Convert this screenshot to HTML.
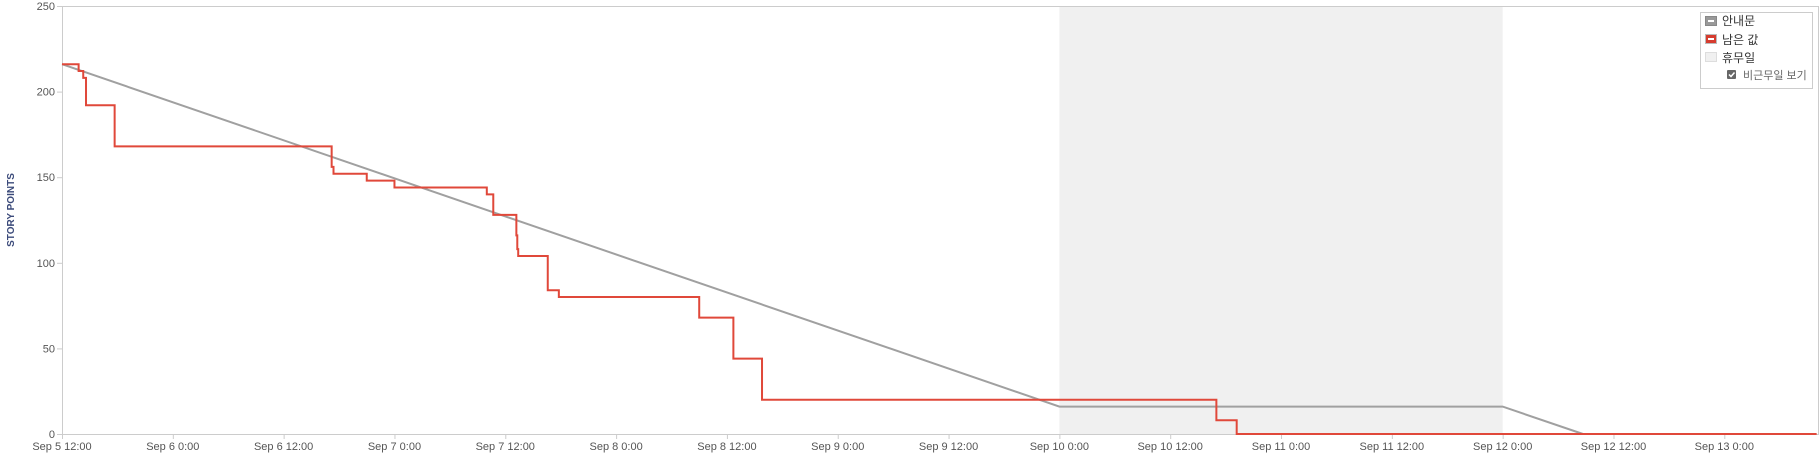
<!DOCTYPE html>
<html><head><meta charset="utf-8">
<style>
html,body{margin:0;padding:0;background:#fff;width:1820px;height:454px;overflow:hidden;font-family:"Liberation Sans","Noto Sans CJK KR",sans-serif}
svg{display:block}
</style></head>
<body>
<svg id="chart" width="1820" height="454" xmlns="http://www.w3.org/2000/svg">
<g id="bg"></g><g id="axes"></g><g id="series"></g>
<text transform="translate(14,210) rotate(-90)" text-anchor="middle" font-size="10" font-weight="bold" fill="#3b4a7a">STORY POINTS</text>
<g>
<rect x="1700.5" y="12.5" width="112" height="76" fill="#fff" stroke="#ccc"/>
<g><rect x="1705.5" y="16.5" width="11" height="9" fill="#999" stroke="#888"/><rect x="1708" y="20" width="6" height="2" fill="#fff"/><text x="1722" y="25" font-size="12" fill="#333">안내문</text></g>
<g><rect x="1705.5" y="34.5" width="11" height="9" fill="#d63c2f" stroke="#bbb"/><rect x="1708" y="38" width="6" height="2" fill="#fff"/><text x="1722" y="44" font-size="12" fill="#333">남은 값</text></g>
<g><rect x="1705.5" y="52.5" width="11" height="9" fill="#f0f0f0" stroke="#ddd"/><text x="1722" y="62" font-size="12" fill="#333">휴무일</text></g>
<g><rect x="1727" y="70" width="9" height="9" rx="1" fill="#666"/><path d="M1729 74.5l2 2 3.5-4" stroke="#fff" stroke-width="1.5" fill="none"/><text x="1743" y="79" font-size="11" fill="#666">비근무일 보기</text></g>
</g>
</svg>
<script>
const xTickLabels=["Sep 5 12:00","Sep 6 0:00","Sep 6 12:00","Sep 7 0:00","Sep 7 12:00","Sep 8 0:00","Sep 8 12:00","Sep 9 0:00","Sep 9 12:00","Sep 10 0:00","Sep 10 12:00","Sep 11 0:00","Sep 11 12:00","Sep 12 0:00","Sep 12 12:00","Sep 13 0:00"];
const yTicks=[0,50,100,150,200,250];
const weekendHours=[108,156];
const guideHours=[0,108,156,164.7];
const guideValues=[216,16,16,0];
const remainHours=[0,1.8,2.3,2.6,5.7,29.2,29.4,33,36,46,46.7,49.2,49.3,49.4,52.6,53.8,69,72.7,75.8,125,127.2,190];
const remainValues=[216,212,208,192,168,156,152,148,144,140,128,116,108,104,84,80,68,44,20,8,0,0];
const L=62,R=1818,T=6,B=434;
const x=h=>L+h*9.235;
const y=v=>B-v*(B-T)/250;
const NS="http://www.w3.org/2000/svg";
function mk(tag,attrs,parent,txt){const e=document.createElementNS(NS,tag);for(const k in attrs)e.setAttribute(k,attrs[k]);if(txt!==undefined)e.textContent=txt;parent.appendChild(e);return e;}
const bg=document.getElementById('bg'),ax=document.getElementById('axes'),se=document.getElementById('series');
const wk=mk('rect',{x:x(weekendHours[0]),y:T,width:x(weekendHours[1])-x(weekendHours[0]),height:B-T,fill:'#f0f0f0'},bg);


const frame=mk('path',{d:`M${L+0.5} ${B}V${T+0.5}H${R+0.5}V${B}`,fill:'none',stroke:'#ccc'},ax);


mk('line',{x1:L,x2:R+1,y1:B+0.5,y2:B+0.5,stroke:'#ccc'},ax);
yTicks.forEach(v=>{
  mk('line',{x1:L-5,x2:L,y1:y(v)+0.5,y2:y(v)+0.5,stroke:'#ccc'},ax);
  const t=mk('text',{x:L-7,y:y(v)+4,'text-anchor':'end','font-size':11,fill:'#555'},ax,String(v));
  
  
});
xTickLabels.forEach((lab,i)=>{
  const xx=x(i*12);
  mk('line',{x1:xx+0.5,x2:xx+0.5,y1:B,y2:B+5,stroke:'#ccc'},ax);
  const t=mk('text',{x:xx,y:450,'text-anchor':'middle','font-size':11,fill:'#555'},ax,lab);
  
  
});
let gd='';guideHours.forEach((h,i)=>{gd+=(i?'L':'M')+x(h)+' '+y(guideValues[i]);});
const g=mk('path',{d:gd,fill:'none',stroke:'#a0a0a0','stroke-width':2},se);


let rd='';remainHours.forEach((h,i)=>{if(i===0)rd='M'+x(h)+' '+y(remainValues[0]);else rd+='H'+x(h)+'V'+y(remainValues[i]);});
const r=mk('path',{d:rd,fill:'none',stroke:'#e0483a','stroke-width':2},se);


</script>
</body></html>
